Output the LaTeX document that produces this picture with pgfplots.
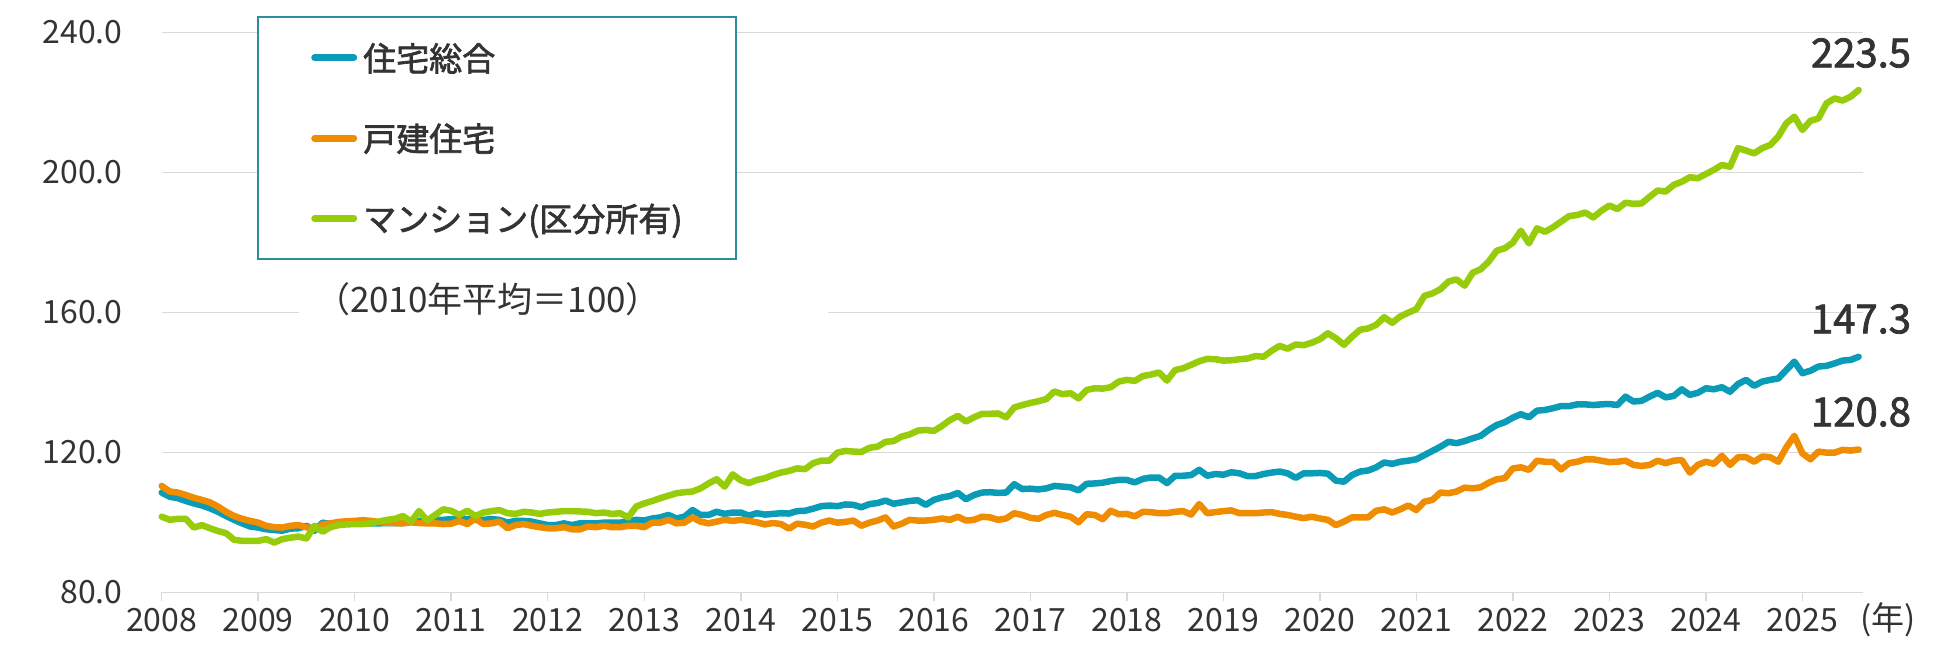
\documentclass[border=0pt]{standalone}
\usepackage{fontspec}
\setmainfont{Noto Sans CJK JP}
\newfontfamily\medfont[FakeBold=2]{Noto Sans CJK JP}
\usepackage{pgfplots}
\pgfplotsset{compat=1.18}
\usepackage{pgfplotstable}

\definecolor{cTot}{HTML}{0A9CB6}
\definecolor{cDet}{HTML}{F08C00}
\definecolor{cCon}{HTML}{97CC0A}
\definecolor{cGrid}{HTML}{D9D9D9}
\definecolor{cTxt}{HTML}{333333}
\definecolor{cBox}{HTML}{2A8E9E}

% monthly index (2010 average = 100); m = months since the first point
\pgfplotstableread{
m tot det con
0 108.5 110.4 101.6
1 107.3 108.8 100.7
2 106.9 108.5 101.0
3 106.1 107.8 101.0
4 105.4 107.0 98.5
5 104.8 106.4 99.2
6 104.0 105.7 98.3
7 103.0 104.5 97.5
8 101.8 103.0 96.9
9 100.7 101.8 95.0
10 99.7 101.0 94.7
11 98.8 100.4 94.7
12 98.5 99.9 94.7
13 98.0 99.0 95.2
14 97.8 98.6 94.2
15 97.6 98.5 95.2
16 98.2 99.0 95.6
17 98.3 99.2 95.9
18 99.0 98.6 95.4
19 97.6 98.0 99.0
20 99.9 99.4 97.3
21 99.5 99.7 98.6
22 99.7 100.1 99.2
23 99.7 100.3 99.4
24 99.7 100.4 99.5
25 99.7 100.6 99.5
26 99.7 100.4 99.7
27 99.7 100.1 100.2
28 99.8 99.9 100.7
29 99.8 99.8 101.0
30 99.8 99.7 101.8
31 100.2 100.0 100.2
32 100.4 99.8 103.2
33 100.7 99.7 100.5
34 100.7 99.7 102.1
35 100.7 99.5 103.7
36 100.9 99.6 103.3
37 100.7 100.4 102.1
38 100.9 99.5 103.3
39 100.7 101.1 101.8
40 100.7 99.5 102.8
41 100.9 99.7 103.2
42 100.7 100.2 103.5
43 99.9 98.3 102.6
44 100.4 99.2 102.4
45 100.4 99.5 103.0
46 100.2 99.0 102.8
47 99.7 98.6 102.4
48 99.2 98.3 102.8
49 99.2 98.3 103.0
50 99.7 98.6 103.2
51 99.2 98.0 103.2
52 99.7 98.0 103.1
53 99.7 98.8 103.0
54 99.7 98.6 102.6
55 99.9 99.0 102.8
56 99.9 98.6 102.4
57 99.9 98.6 102.6
58 100.2 99.0 101.4
59 100.7 99.0 104.5
60 100.5 98.6 105.4
61 101.1 99.9 106.1
62 101.4 99.9 106.9
63 102.1 100.7 107.6
64 101.1 99.7 108.3
65 101.6 99.9 108.6
66 103.5 101.4 108.8
67 102.1 100.2 109.7
68 102.1 99.7 111.1
69 103.0 100.2 112.3
70 102.4 100.7 110.2
71 102.8 100.4 113.7
72 102.8 100.7 112.0
73 101.9 100.4 111.2
74 102.6 100.0 112.1
75 102.2 99.4 112.6
76 102.4 99.8 113.5
77 102.6 99.5 114.2
78 102.5 98.2 114.7
79 103.2 99.6 115.4
80 103.3 99.3 115.2
81 103.9 98.8 116.9
82 104.6 99.9 117.6
83 104.8 100.5 117.6
84 104.6 99.9 119.9
85 105.1 100.1 120.4
86 105.0 100.5 120.2
87 104.3 99.0 120.1
88 105.2 99.9 121.3
89 105.5 100.5 121.6
90 106.2 101.4 123.0
91 105.3 98.8 123.2
92 105.7 99.6 124.5
93 106.1 100.7 125.1
94 106.3 100.5 126.2
95 105.0 100.5 126.4
96 106.4 100.7 126.1
97 107.1 101.1 127.5
98 107.5 100.7 129.2
99 108.4 101.6 130.4
100 106.6 100.5 128.8
101 107.8 100.7 130.0
102 108.5 101.6 131.0
103 108.6 101.4 131.0
104 108.4 100.7 131.1
105 108.5 101.1 130.0
106 110.9 102.6 132.8
107 109.5 102.1 133.5
108 109.6 101.3 134.1
109 109.4 101.0 134.6
110 109.7 102.1 135.2
111 110.4 102.7 137.4
112 110.2 102.1 136.6
113 110.0 101.6 136.9
114 109.1 100.0 135.4
115 111.0 102.3 137.8
116 111.1 102.1 138.3
117 111.3 100.9 138.2
118 111.8 103.3 138.6
119 112.1 102.3 140.2
120 112.1 102.4 140.7
121 111.4 101.7 140.4
122 112.4 103.0 141.8
123 112.8 102.9 142.2
124 112.8 102.6 142.8
125 111.2 102.6 140.5
126 113.3 103.0 143.5
127 113.3 103.2 144.0
128 113.5 102.2 145.0
129 115.0 105.2 146.0
130 113.3 102.6 146.7
131 113.8 102.9 146.6
132 113.6 103.2 146.2
133 114.3 103.4 146.3
134 114.0 102.6 146.6
135 113.2 102.6 146.8
136 113.2 102.6 147.5
137 113.8 102.8 147.3
138 114.2 102.9 149.0
139 114.5 102.4 150.4
140 114.0 102.1 149.6
141 112.7 101.6 150.8
142 114.0 101.2 150.6
143 114.0 101.6 151.3
144 114.1 101.1 152.3
145 113.9 100.7 154.0
146 111.9 99.2 152.6
147 111.6 100.2 150.7
148 113.5 101.4 153.0
149 114.5 101.4 155.0
150 114.8 101.4 155.4
151 115.7 103.3 156.4
152 117.1 103.7 158.6
153 116.7 102.8 157.0
154 117.3 103.7 158.8
155 117.6 104.8 159.9
156 118.0 103.5 160.9
157 119.2 105.9 164.7
158 120.4 106.4 165.4
159 121.6 108.5 166.6
160 123.0 108.3 168.8
161 122.6 108.8 169.4
162 123.2 109.9 167.6
163 124.0 109.7 171.3
164 124.7 110.0 172.3
165 126.4 111.3 174.5
166 127.8 112.3 177.6
167 128.6 112.6 178.3
168 129.9 115.4 179.9
169 130.9 115.7 183.3
170 130.0 115.0 179.7
171 131.9 117.6 184.0
172 132.1 117.3 183.0
173 132.6 117.3 184.3
174 133.2 115.1 185.9
175 133.2 116.9 187.5
176 133.7 117.3 187.8
177 133.7 118.0 188.5
178 133.5 118.0 187.1
179 133.7 117.6 189.0
180 133.8 117.2 190.5
181 133.5 117.3 189.5
182 135.9 117.6 191.3
183 134.5 116.4 191.0
184 134.7 116.1 191.1
185 135.9 116.4 193.0
186 137.0 117.6 194.8
187 135.7 116.9 194.5
188 136.1 117.6 196.4
189 138.0 117.8 197.3
190 136.4 114.2 198.6
191 137.0 116.4 198.3
192 138.3 117.3 199.5
193 138.0 116.7 200.7
194 138.6 119.0 202.1
195 137.3 116.4 201.6
196 139.5 118.6 206.9
197 140.7 118.6 206.2
198 139.0 117.3 205.4
199 140.2 118.8 206.9
200 140.7 118.6 207.8
201 141.1 117.3 210.2
202 143.5 121.4 214.0
203 145.9 124.7 215.9
204 142.6 119.7 212.1
205 143.3 118.0 214.7
206 144.5 120.2 215.4
207 144.7 119.9 219.7
208 145.4 119.9 221.1
209 146.2 120.7 220.5
210 146.4 120.5 221.6
211 147.3 120.8 223.5
}\prices

\begin{document}
\begin{tikzpicture}[x=1pt,y=1pt]
\useasboundingbox (0,0) rectangle (1950,662);
\begin{axis}[
  at={(161.7pt,69.7pt)}, anchor=south west,
  scale only axis, width=1701pt, height=560pt,
  xmin=0, xmax=211.5, ymin=80, ymax=240,
  clip=false,
  axis lines*=left,
  y axis line style={draw=none},
  x axis line style={cGrid, line width=1.5pt},
  xtick={0,12,24,36,48,60,72,84,96,108,120,132,144,156,168,180,192,204},
  xticklabels={2008,2009,2010,2011,2012,2013,2014,2015,2016,2017,2018,2019,2020,2021,2022,2023,2024,2025},
  ytick={80,120,160,200,240},
  ymajorgrids, grid style={cGrid, line width=1.5pt},
  tick align=outside, major tick length=9pt,
  xtick style={cGrid, line width=1.5pt},
  ytick style={draw=none},
  /pgf/number format/assume math mode=true,
  ticklabel style={font=\fontsize{32}{36}\selectfont, text=cTxt, inner sep=0pt},
  xticklabel style={anchor=north, yshift=-7pt},
  yticklabel style={anchor=east, xshift=-30pt,
    /pgf/number format/fixed, /pgf/number format/fixed zerofill,
    /pgf/number format/precision=1},
  legend style={at={(0.0878,0.981)}, anchor=north west, draw=none, fill=none,
    inner sep=0pt, row sep=51pt, column sep=6pt,
    font=\fontsize{33}{38}\selectfont\medfont,
    nodes={inner sep=0pt, text=cTxt}},
  legend cell align=left,
  legend image code/.code={\draw[#1, line width=7pt, line cap=round] (3.5pt,0pt) -- (42.5pt,0pt);},
]
% legend frame and the white patch behind the base note
\filldraw[fill=white, draw=cBox, line width=1.5pt]
  (rel axis cs:0.0566,0.5952) rectangle (rel axis cs:0.3376,1.0273);
\fill[white] (rel axis cs:0.0807,0.4773) rectangle (rel axis cs:0.3920,0.5898);

\addplot[cTot, line width=6.5pt, line join=round, line cap=round] table[x=m, y=tot] {\prices};
\addlegendentry{住宅総合}
\addplot[cDet, line width=6.5pt, line join=round, line cap=round] table[x=m, y=det] {\prices};
\addlegendentry{戸建住宅}
\addplot[cCon, line width=6.5pt, line join=round, line cap=round] table[x=m, y=con] {\prices};
\addlegendentry{マンション(区分所有)}
\end{axis}

\node[font=\fontsize{35}{40}\selectfont, text=cTxt, inner sep=0pt] at (488,363) {（2010年平均＝100）};
\node[font=\fontsize{40}{44}\selectfont\medfont, text=cTxt, inner sep=0pt] at (1861,609) {223.5};
\node[font=\fontsize{40}{44}\selectfont\medfont, text=cTxt, inner sep=0pt] at (1861,343) {147.3};
\node[font=\fontsize{40}{44}\selectfont\medfont, text=cTxt, inner sep=0pt] at (1861,250) {120.8};
\node[font=\fontsize{33}{36}\selectfont, text=cTxt, inner sep=0pt] at (1888,42) {(年)};
\end{tikzpicture}
\end{document}
